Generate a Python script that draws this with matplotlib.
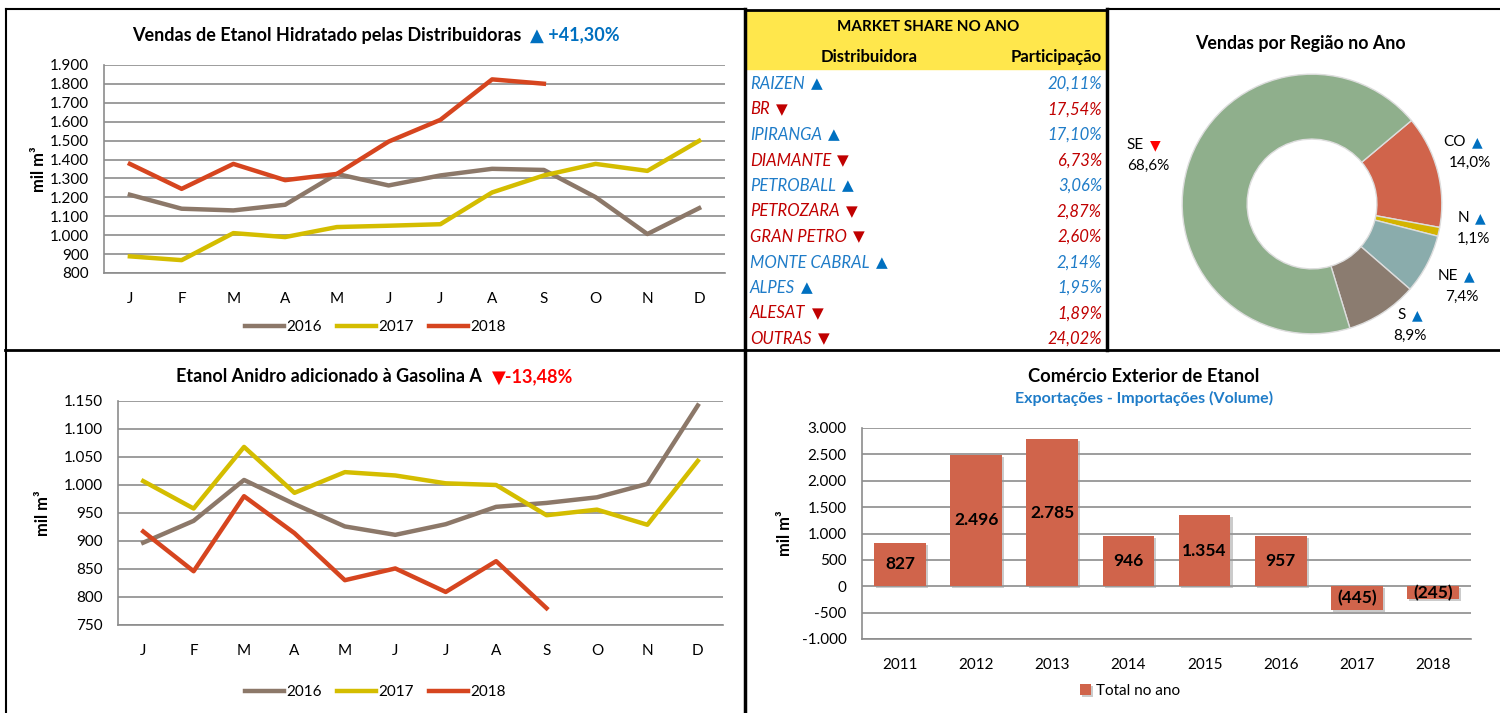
import numpy as np
import matplotlib
matplotlib.use("Agg")
from matplotlib import pyplot as plt
from matplotlib.lines import Line2D
from matplotlib.patches import Rectangle
import matplotlib.patheffects as pe

plt.rcParams['font.family'] = ['Lato', 'DejaVu Sans']

# ---- data ----
meses = ['J', 'F', 'M', 'A', 'M', 'J', 'J', 'A', 'S', 'O', 'N', 'D']

# Vendas de Etanol Hidratado (mil m3)
hid_2016 = [1214, 1140, 1131, 1161, 1324, 1263, 1316, 1351, 1345, 1201, 1006, 1143]
hid_2017 = [888, 868, 1011, 990, 1043, 1050, 1058, 1226, 1316, 1377, 1340, 1499]
hid_2018 = [1377, 1245, 1377, 1291, 1324, 1495, 1610, 1824, 1801]

# Etanol Anidro adicionado a Gasolina A (mil m3)
ani_2016 = [897, 936, 1009, 966, 926, 911, 930, 961, 968, 978, 1002, 1142]
ani_2017 = [1007, 958, 1068, 986, 1023, 1017, 1003, 1000, 946, 956, 929, 1043]
ani_2018 = [917, 846, 980, 914, 830, 851, 809, 864, 780]

# Market share
distribuidoras = ['RAIZEN', 'BR', 'IPIRANGA', 'DIAMANTE', 'PETROBALL', 'PETROZARA',
                  'GRAN PETRO', 'MONTE CABRAL', 'ALPES', 'ALESAT', 'OUTRAS']
participacao = [20.11, 17.54, 17.10, 6.73, 3.06, 2.87, 2.60, 2.14, 1.95, 1.89, 24.02]
tendencia = ['up', 'down', 'up', 'down', 'up', 'down', 'down', 'up', 'up', 'down', 'down']

# Vendas por regiao
regioes = ['CO', 'N', 'NE', 'S', 'SE']
reg_share = [14.0, 1.1, 7.4, 8.9, 68.6]
reg_tend = ['up', 'up', 'up', 'up', 'down']

# Comercio exterior
anos = ['2011', '2012', '2013', '2014', '2015', '2016', '2017', '2018']
saldo = [827, 2496, 2785, 946, 1354, 957, -445, -245]

# ---- styles ----
W, H = 1500, 713
C16, C17, C18 = '#8C7869', '#D4BD00', '#D6451F'
BLUE, RED = '#0070C0', '#C00000'
GRID = '#8C8C8C'
BAR = '#D0644B'
REG_COLORS = ['#D0644B', '#D4B400', '#8AACAC', '#8B7C70', '#8FAF8C']


def box(x0, y0, x1, y1):
    # axes rectangle from pixel coordinates (top-left origin)
    return [x0 / W, 1 - y1 / H, (x1 - x0) / W, (y1 - y0) / H]


def ftext(x, y, s, **kw):
    return fig.text(x / W, 1 - y / H, s, **kw)


def fline(x0, y0, x1, y1, lw=1.5, color='black'):
    fig.add_artist(Line2D([x0 / W, x1 / W], [1 - y0 / H, 1 - y1 / H],
                          color=color, lw=lw, transform=fig.transFigure))


def thousands(v, pos=None):
    s = f"{abs(int(v)):,}".replace(',', '.')
    return ('-' if v < 0 else '') + s


def style_axes(ax):
    for sp in ['top', 'right']:
        ax.spines[sp].set_visible(False)
    ax.spines['left'].set_color(GRID)
    ax.spines['bottom'].set_color(GRID)
    ax.spines['left'].set_linewidth(1.2)
    ax.spines['bottom'].set_linewidth(1.2)
    ax.yaxis.grid(True, color=GRID, lw=1.2)
    ax.set_axisbelow(True)
    ax.tick_params(axis='both', length=0, labelsize=11, colors='black')
    ax.tick_params(axis='x', pad=14)
    ax.tick_params(axis='y', pad=11)
    ax.yaxis.set_major_formatter(plt.FuncFormatter(thousands))


def line_chart(ax, s16, s17, s18, lo, hi, step):
    x = np.arange(len(meses))
    ax.plot(x, s16, color=C16, lw=3.2, label='2016')
    ax.plot(x, s17, color=C17, lw=3.2, label='2017')
    ax.plot(np.arange(len(s18)), s18, color=C18, lw=3.2, label='2018')
    ax.set_xlim(-0.5, len(meses) - 0.5)
    ax.set_ylim(lo, hi)
    ax.set_yticks(np.arange(lo, hi + 1, step))
    ax.set_xticks(x)
    ax.set_xticklabels(meses)
    style_axes(ax)
    ax.set_ylabel('mil m³', fontsize=12, fontweight='bold')


fig = plt.figure(figsize=(W / 100, H / 100), dpi=100)

# ---- panel borders ----
fline(6, 9, 744, 9)
fline(1108, 9, 1500, 9)
fline(6, 9, 6, 713)
fline(5, 350, 1500, 350, lw=2)
fline(745, 9, 745, 713, lw=2.5)
fline(1107, 9, 1107, 350, lw=2.5)
fline(745, 10, 1107, 10, lw=2)

# ---- chart 1: hidratado ----
ax1 = fig.add_axes(box(104, 65, 725, 273))
line_chart(ax1, hid_2016, hid_2017, hid_2018, 800, 1900, 100)
ax1.yaxis.set_label_coords(-0.092, 0.5)
ax1.legend(loc='center', bbox_to_anchor=((375 - 104) / 621, -(327 - 273) / 208),
           ncol=3, frameon=False, fontsize=11, handlelength=2.6,
           handletextpad=0.1, columnspacing=1.0)
ftext(521, 35, 'Vendas de Etanol Hidratado pelas Distribuidoras', ha='right', va='center',
      fontsize=13, fontweight='bold')
ftext(530, 35, '▲ +41,30%', ha='left', va='center', fontsize=13, fontweight='bold', color=BLUE)

# ---- chart 2: anidro ----
ax2 = fig.add_axes(box(118, 401, 723, 625))
line_chart(ax2, ani_2016, ani_2017, ani_2018, 750, 1150, 50)
ax2.yaxis.set_label_coords(-0.11, 0.5)
ax2.legend(loc='center', bbox_to_anchor=((375 - 118) / 605, -(692 - 625) / 224),
           ncol=3, frameon=False, fontsize=11, handlelength=2.6,
           handletextpad=0.1, columnspacing=1.0)
ftext(482, 377, 'Etanol Anidro adicionado à Gasolina A', ha='right', va='center',
      fontsize=13, fontweight='bold')
ftext(492, 377, '▼-13,48%', ha='left', va='center', fontsize=13, fontweight='bold',
      color='#FF0000')

# ---- market share table ----
fig.add_artist(Rectangle((746 / W, 1 - 69 / H), (1106 - 746) / W, (69 - 11) / H,
                         transform=fig.transFigure, color='#FFE74C', zorder=0))
ftext(928, 27, 'MARKET SHARE NO ANO', ha='center', va='center', fontsize=11, fontweight='bold')
ftext(869, 57, 'Distribuidora', ha='center', va='center', fontsize=12, fontweight='bold')
ftext(1102, 57, 'Participação', ha='right', va='center', fontsize=12, fontweight='bold')

renderer = fig.canvas.get_renderer()
for i, (nome, p, t) in enumerate(zip(distribuidoras, participacao, tendencia)):
    y = 84 + i * 25.5
    cor = '#1F7CC8' if t == 'up' else RED
    tri = '▲' if t == 'up' else '▼'
    txt = ftext(750, y, nome, ha='left', va='center', fontsize=12, style='italic', color=cor)
    bb = txt.get_window_extent(renderer)
    fig.text((bb.x1 + 6) / W, 1 - y / H, tri, ha='left', va='center', fontsize=11,
             color=BLUE if t == 'up' else RED, family='DejaVu Sans')
    ftext(1102, y, f"{p:.2f}%".replace('.', ','), ha='right', va='center',
          fontsize=12, style='italic', color=cor)

# ---- donut: vendas por regiao ----
ftext(1300, 43, 'Vendas por Região no Ano', ha='center', va='center',
      fontsize=12.8, fontweight='bold')
ax4 = fig.add_axes(box(1312 - 135, 204 - 135, 1312 + 135, 204 + 135))
ax4.pie(reg_share, colors=REG_COLORS, startangle=40, counterclock=False,
        wedgeprops=dict(width=0.5, edgecolor='#DDDDDD', linewidth=1))
ax4.set_xlim(-1.04, 1.04)
ax4.set_ylim(-1.04, 1.04)
ax4.set_aspect('equal')
ax4.axis('off')

label_pos = {'CO': (1470, 142), 'N': (1473, 218), 'NE': (1462, 276),
             'S': (1410, 315), 'SE': (1148, 145)}
for r, v, t in zip(regioes, reg_share, reg_tend):
    lx, ly = label_pos[r]
    ftext(lx - 4, ly, r, ha='right', va='center', fontsize=11)
    fig.text((lx + 2) / W, 1 - ly / H, '▲' if t == 'up' else '▼', ha='left', va='center',
             fontsize=10, color=BLUE if t == 'up' else '#FF0000', family='DejaVu Sans')
    ftext(lx, ly + 21, f"{v:.1f}%".replace('.', ','), ha='center', va='center', fontsize=11)

# ---- chart 5: comercio exterior ----
ax5 = fig.add_axes(box(862, 428, 1471, 639))
xb = np.arange(len(anos))
bars = ax5.bar(xb, saldo, width=0.68, color=BAR, label='Total no ano', zorder=3,
               path_effects=[pe.SimplePatchShadow(offset=(1.5, -1.5), shadow_rgbFace='#999999',
                                                  alpha=0.5), pe.Normal()])
ax5.set_xlim(-0.5, len(anos) - 0.5)
ax5.set_ylim(-1000, 3000)
ax5.set_yticks(np.arange(-1000, 3001, 500))
ax5.set_xticks(xb)
ax5.set_xticklabels(anos)
style_axes(ax5)
ax5.set_ylabel('mil m³', fontsize=12, fontweight='bold')
ax5.yaxis.set_label_coords(-0.113, 0.5)
for b, v in zip(bars, saldo):
    lab = thousands(v) if v >= 0 else f"({abs(v)})"
    ax5.text(b.get_x() + b.get_width() / 2, v / 2, lab, ha='center', va='center',
             fontsize=12.5, fontweight='bold', zorder=4)
ax5.legend(loc='center', bbox_to_anchor=((1130 - 862) / 609, -(691 - 639) / 211),
           frameon=False, fontsize=11, handlelength=0.7, handleheight=0.7,
           handletextpad=0.3)
ftext(1144, 376, 'Comércio Exterior de Etanol', ha='center', va='center',
      fontsize=13.2, fontweight='bold')
ftext(1144, 398, 'Exportações - Importações (Volume)', ha='center', va='center',
      fontsize=11.5, fontweight='bold', color='#1F7CC8')

fig.savefig('out.png', dpi=100)
